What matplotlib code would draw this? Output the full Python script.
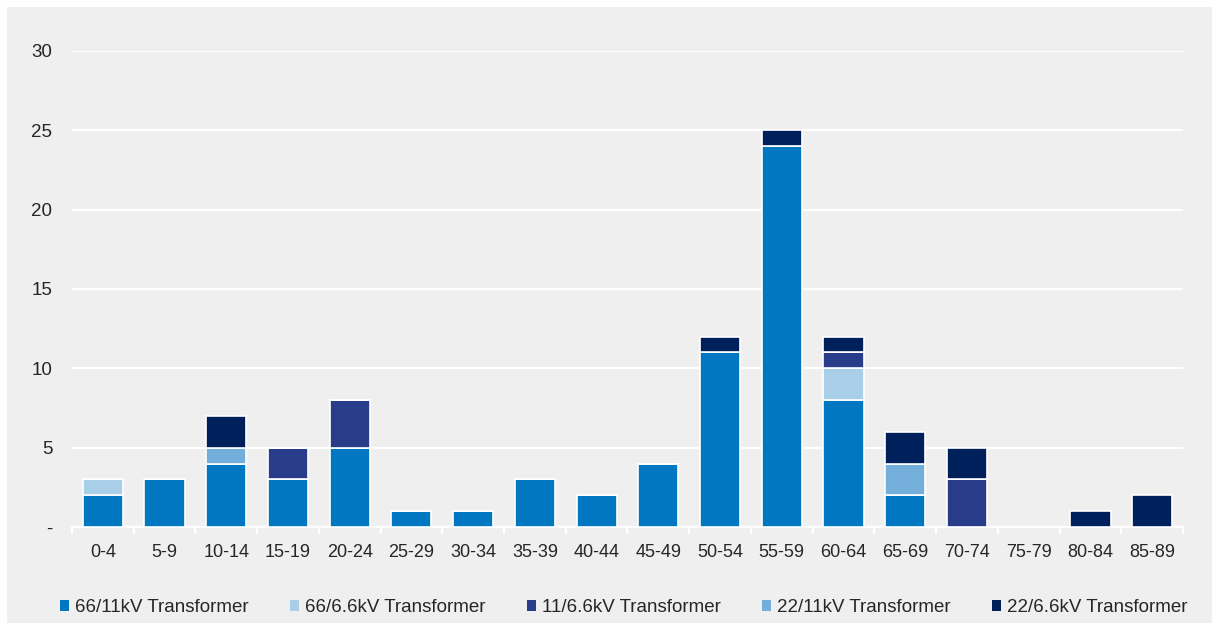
import numpy as np
import matplotlib.pyplot as plt
from matplotlib.patches import Rectangle

plt.rcParams['font.family'] = ['Liberation Sans', 'DejaVu Sans']

# age bands (years)
ages = ['0-4', '5-9', '10-14', '15-19', '20-24', '25-29', '30-34', '35-39', '40-44',
        '45-49', '50-54', '55-59', '60-64', '65-69', '70-74', '75-79', '80-84', '85-89']

# counts per transformer type
tx_66_11 = [2, 3, 4, 3, 5, 1, 1, 3, 2, 4, 11, 24, 8, 2, 0, 0, 0, 0]
tx_66_66 = [1, 0, 0, 0, 0, 0, 0, 0, 0, 0, 0, 0, 2, 0, 0, 0, 0, 0]
tx_11_66 = [0, 0, 0, 2, 3, 0, 0, 0, 0, 0, 0, 0, 1, 0, 3, 0, 0, 0]
tx_22_11 = [0, 0, 1, 0, 0, 0, 0, 0, 0, 0, 0, 0, 0, 2, 0, 0, 0, 0]
tx_22_66 = [0, 0, 2, 0, 0, 0, 0, 0, 0, 0, 1, 1, 1, 2, 2, 0, 1, 2]

series = [
    ('66/11kV Transformer', tx_66_11, '#0077C0'),
    ('66/6.6kV Transformer', tx_66_66, '#A9CFE8'),
    ('11/6.6kV Transformer', tx_11_66, '#283C8A'),
    ('22/11kV Transformer', tx_22_11, '#74AEDA'),
    ('22/6.6kV Transformer', tx_22_66, '#00205C'),
]

bg = '#EFEFEF'
txt = '#262626'
fig = plt.figure(figsize=(12.19, 6.30), dpi=100, facecolor='white')
fig.patches.append(Rectangle((7 / 1219, 7 / 630), 1205 / 1219, 616 / 630,
                             transform=fig.transFigure, facecolor=bg,
                             edgecolor='none', zorder=-10))
ax = fig.add_axes([0.059, 0.1635, 0.9115, 0.7556])
ax.set_facecolor(bg)

x = np.arange(len(ages))
bottom = np.zeros(len(ages))
for name, vals, col in series:
    vals = np.array(vals, dtype=float)
    ax.bar(x, vals, bottom=bottom, width=0.65, color=col, edgecolor='white',
           linewidth=1.2, label=name, zorder=3)
    bottom += vals

ax.set_xlim(-0.5, len(ages) - 0.5)
ax.set_ylim(0, 30)
ax.set_yticks(range(0, 31, 5))
ax.set_yticklabels(['-'] + [str(v) for v in range(5, 31, 5)])
ax.yaxis.grid(True, color='white', linewidth=1.6, zorder=0)
ax.set_axisbelow(True)

ax.set_xticks(x)
ax.set_xticklabels(ages)
ax.set_xticks(np.arange(-0.5, len(ages), 1), minor=True)
ax.tick_params(axis='x', which='major', length=0, pad=12, labelsize=13, colors=txt)
ax.tick_params(axis='x', which='minor', length=5, width=1.6, color='white')
ax.tick_params(axis='y', length=0, pad=14, labelsize=13.5, colors=txt)

for s in ['top', 'right', 'left']:
    ax.spines[s].set_visible(False)
ax.spines['bottom'].set_color('white')
ax.spines['bottom'].set_linewidth(1.6)

leg = fig.legend(loc='center left', bbox_to_anchor=(60 / 1219, 0.036), ncol=5, frameon=False,
                 fontsize=13.5, handlelength=0.5, handleheight=0.5, handletextpad=0.3,
                 columnspacing=2.2, labelcolor=txt, borderaxespad=0, borderpad=0)
for h in leg.legend_handles:
    h.set_edgecolor('none')

fig.savefig('out.png', dpi=100, facecolor='white')
